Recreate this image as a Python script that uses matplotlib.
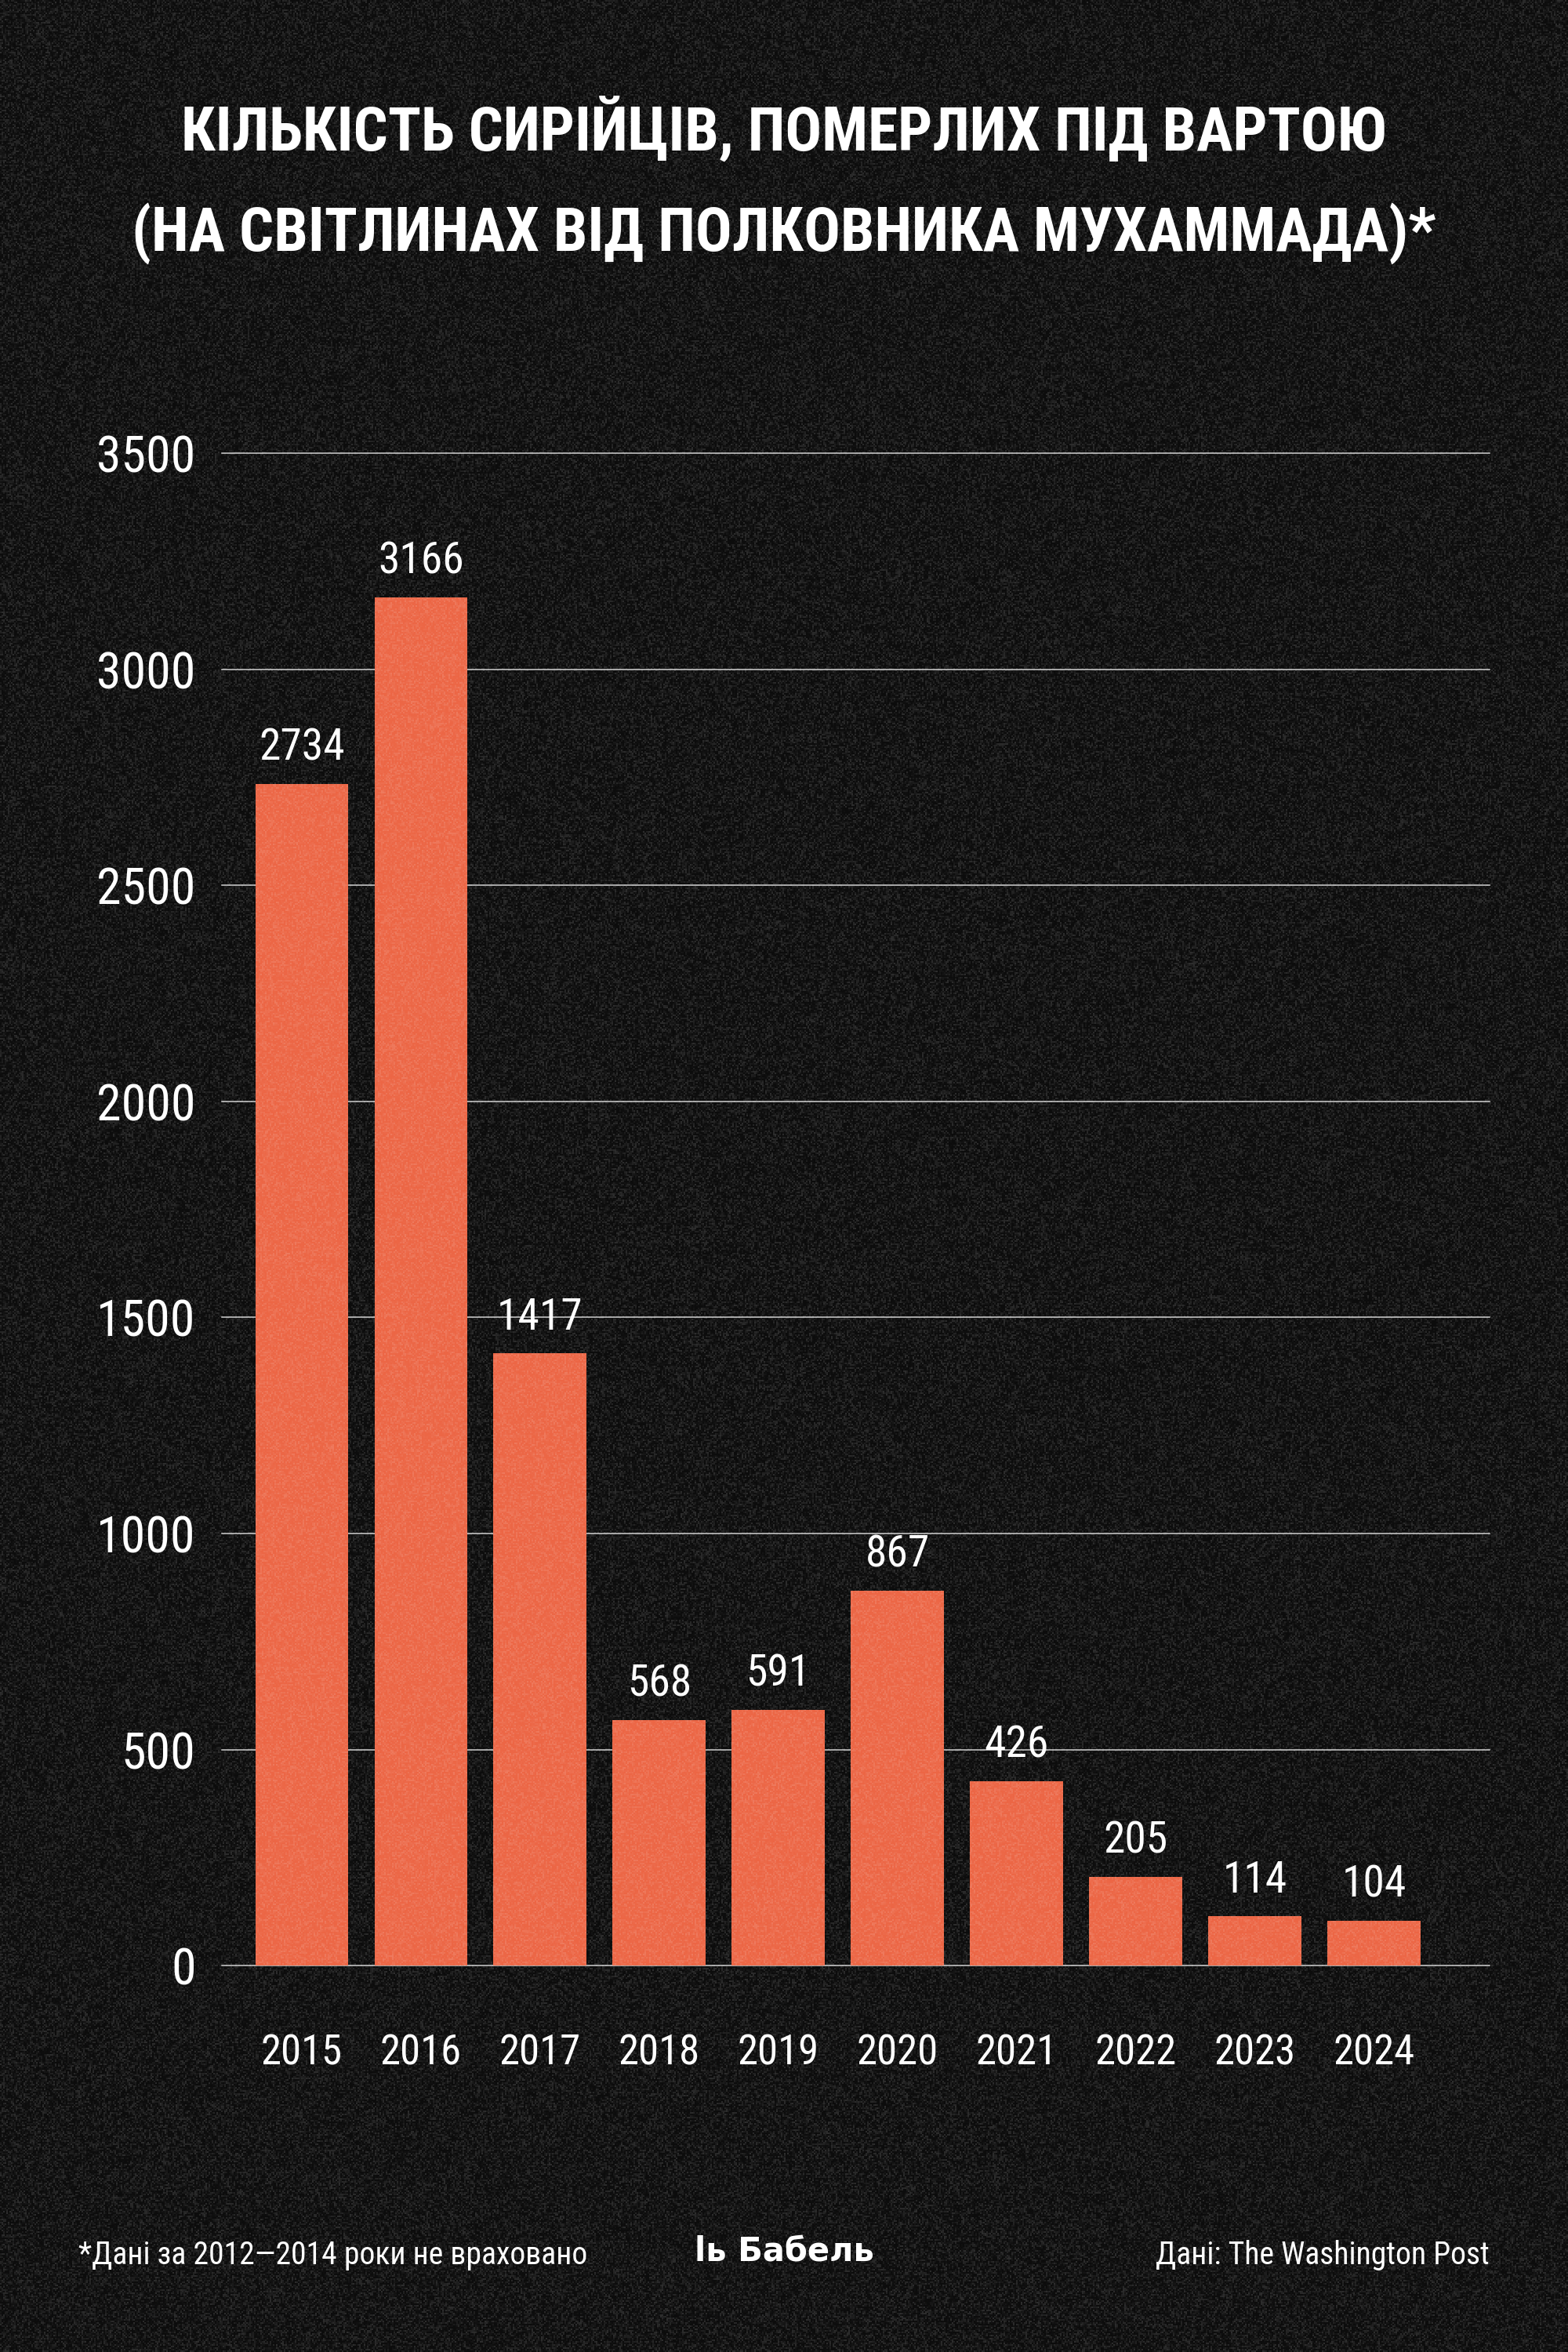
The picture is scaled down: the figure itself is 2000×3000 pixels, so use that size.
import numpy as np
import matplotlib
matplotlib.use('Agg')
import matplotlib.pyplot as plt
from matplotlib import font_manager

years = ['2015', '2016', '2017', '2018', '2019', '2020', '2021', '2022', '2023', '2024']
deaths = [2734, 3166, 1417, 568, 591, 867, 426, 205, 114, 104]
y_ticks = [0, 500, 1000, 1500, 2000, 2500, 3000, 3500]

title_lines = ['КІЛЬКІСТЬ СИРІЙЦІВ, ПОМЕРЛИХ ПІД ВАРТОЮ',
               '(НА СВІТЛИНАХ ВІД ПОЛКОВНИКА МУХАММАДА)*']
note = '*Дані за 2012—2014 роки не враховано'
source = 'Дані: The Washington Post'
logo = 'lь Бабель'

BG = '#0c0c0c'
BAR = '#EC6645'

# pick a narrow face if one is installed
names = {f.name for f in font_manager.fontManager.ttflist}
narrow = next((n for n in ['Liberation Sans Narrow', 'DejaVu Sans Condensed',
                           'Roboto Condensed', 'Open Sans Condensed']
               if n in names), 'DejaVu Sans')
plt.rcParams['font.family'] = [narrow, 'DejaVu Sans']

fig = plt.figure(figsize=(20, 30), dpi=100, facecolor=BG)
ax = fig.add_axes([0.1415, 0.1643, 0.8085, 0.643])
ax.set_facecolor(BG)

x = np.arange(len(years))
ax.bar(x, deaths, width=0.78, color=BAR, zorder=3)
for xi, v in zip(x, deaths):
    ax.annotate(str(v), (xi, v), xytext=(0, 22), textcoords='offset points',
                ha='center', va='baseline', color='white', fontsize=40)

ax.set_xlim(-0.67, 9.97)
ax.set_ylim(0, 3500)
ax.set_xticks(x, years)
ax.set_yticks(y_ticks)
ax.grid(axis='y', color='#d0d0d0', linewidth=1.1)
ax.set_axisbelow(True)
for line in ax.get_ygridlines():
    line.set_clip_on(False)
for s in ax.spines.values():
    s.set_visible(False)
ax.tick_params(axis='y', length=0, pad=24, labelsize=46, labelcolor='white')
ax.tick_params(axis='x', length=0, pad=62, labelsize=38, labelcolor='white')

# title, sized so the first line spans the same width as the original
t1 = fig.text(0.5, 0.936, title_lines[0], ha='center', va='baseline',
              color='white', fontsize=80, fontweight='bold')
t2 = fig.text(0.5, 0.8933, title_lines[1], ha='center', va='baseline',
              color='white', fontsize=80, fontweight='bold')
renderer = fig.canvas.get_renderer()
w = t1.get_window_extent(renderer).width
size = 80 * 1540 / w
t1.set_fontsize(size)
t2.set_fontsize(size)

fig.text(0.05, 0.0373, note, ha='left', va='baseline', color='white', fontsize=28.5)
fig.text(0.95, 0.0373, source, ha='right', va='baseline', color='white', fontsize=28.5)
fig.text(0.5, 0.039, logo, ha='center', va='baseline', color='white',
         fontsize=30, fontweight='bold', family='DejaVu Sans')

# film grain over everything
rng = np.random.default_rng(7)
grain = np.ones((1500, 1000, 4))
grain[..., 3] = rng.random((1500, 1000)) ** 2 * 0.14
over = fig.add_axes([0, 0, 1, 1], zorder=10)
over.imshow(grain, interpolation='nearest', aspect='auto')
over.axis('off')

fig.savefig('out.png', dpi=100, facecolor=BG)
